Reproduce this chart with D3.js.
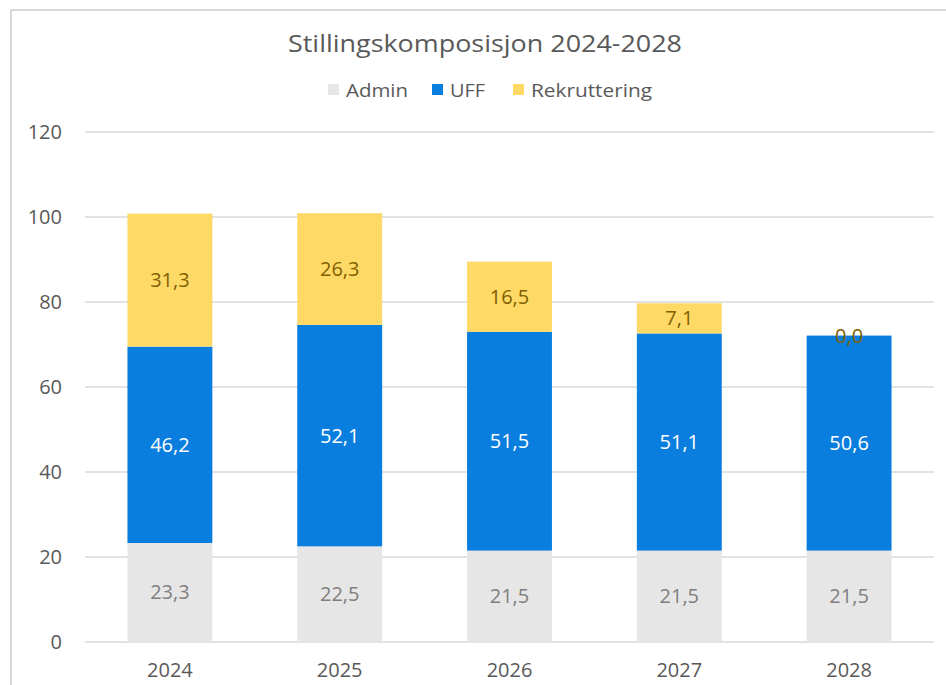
<!DOCTYPE html>
<html>
<head>
<meta charset="utf-8">
<script src="https://cdn.jsdelivr.net/npm/d3@7"></script>
<style>
  body { margin: 0; background: #fff; }
  text { font-family: "Open Sans", sans-serif; }
</style>
</head>
<body>
<div id="chart"></div>
<script>
var years = ['2024', '2025', '2026', '2027', '2028'],
    series = ['Admin', 'UFF', 'Rekruttering'],
    admin = [23.3, 22.5, 21.5, 21.5, 21.5],
    uff = [46.2, 52.1, 51.5, 51.1, 50.6],
    rekruttering = [31.3, 26.3, 16.5, 7.1, 0.0],
    yTicks = [0, 20, 40, 60, 80, 100, 120];

var colorMap = ['#e7e6e6', '#0a7ede', '#ffd966'],
    labelColor = ['#7f7f7f', '#ffffff', '#7f6000'];

var svg_dx = 946, svg_dy = 685,
    margin = {top: 132, right: 12, bottom: 43, left: 85},
    width = 934 - margin.left,
    height = svg_dy - margin.top - margin.bottom;

var rows = years.map(function(y, i) {
  return {year: y, Admin: admin[i], UFF: uff[i], Rekruttering: rekruttering[i]};
});

var stacked = d3.stack().keys(series)(rows);

var x = d3.scaleBand().domain(years).range([0, width]).paddingInner(0.5).paddingOuter(0.25);
var y = d3.scaleLinear().domain([0, 120]).range([height, 0]);

var svg = d3.select('#chart').append('svg')
    .attr('width', svg_dx)
    .attr('height', svg_dy);

// outer chart border (cropped at right/bottom)
svg.append('path')
   .attr('d', 'M11,' + svg_dy + ' V10 H' + svg_dx)
   .attr('fill', 'none')
   .attr('stroke', '#d9d9d9')
   .attr('stroke-width', 2);

var g = svg.append('g')
   .attr('transform', 'translate(' + margin.left + ',' + margin.top + ')');

// gridlines
g.selectAll('.grid')
  .data(yTicks)
  .enter()
  .append('line')
  .attr('x1', 0)
  .attr('x2', width)
  .attr('y1', function(d) { return y(d); })
  .attr('y2', function(d) { return y(d); })
  .attr('stroke', '#d9d9d9')
  .attr('stroke-width', 1.5);

// y tick labels
g.selectAll('.ylab')
  .data(yTicks)
  .enter()
  .append('text')
  .attr('x', -23)
  .attr('y', function(d) { return y(d) + 7; })
  .attr('text-anchor', 'end')
  .style('font-size', '20px')
  .style('fill', '#595959')
  .text(function(d) { return d; });

// x labels
g.selectAll('.xlab')
  .data(years)
  .enter()
  .append('text')
  .attr('x', function(d) { return x(d) + x.bandwidth() / 2; })
  .attr('y', height + 35)
  .attr('text-anchor', 'middle')
  .style('font-size', '20px')
  .style('fill', '#595959')
  .text(function(d) { return d; });

// bars
var layers = g.selectAll('.layer')
  .data(stacked)
  .enter()
  .append('g')
  .attr('fill', function(d, i) { return colorMap[i]; });

layers.selectAll('rect')
  .data(function(d) { return d; })
  .enter()
  .append('rect')
  .attr('x', function(d) { return x(d.data.year); })
  .attr('width', x.bandwidth())
  .attr('y', function(d) { return y(d[1]); })
  .attr('height', function(d) { return y(d[0]) - y(d[1]); });

// data labels
stacked.forEach(function(layer, i) {
  g.selectAll('.lab' + i)
    .data(layer)
    .enter()
    .append('text')
    .attr('x', function(d) { return x(d.data.year) + x.bandwidth() / 2; })
    .attr('y', function(d) { return (y(d[0]) + y(d[1])) / 2 + 7; })
    .attr('text-anchor', 'middle')
    .style('font-size', '20px')
    .style('fill', labelColor[i])
    .text(function(d) { return (d[1] - d[0]).toFixed(1).replace('.', ','); });
});

// title
svg.append('text')
   .attr('x', 485)
   .attr('y', 52)
   .attr('text-anchor', 'middle')
   .style('font-size', '23px')
   .style('fill', '#595959')
   .attr('textLength', 394)
   .attr('lengthAdjust', 'spacingAndGlyphs')
   .text('Stillingskomposisjon 2024-2028');

// legend
var legendX = [328, 432, 513],
    legendW = [62, 35, 121];
var legend = svg.selectAll('.legend')
  .data(series)
  .enter()
  .append('g')
  .attr('transform', function(d, i) { return 'translate(' + legendX[i] + ',84)'; });

legend.append('rect')
  .attr('width', 11)
  .attr('height', 11)
  .attr('fill', function(d, i) { return colorMap[i]; });

legend.append('text')
  .attr('x', 18)
  .attr('y', 13)
  .style('font-size', '19px')
  .style('fill', '#595959')
  .attr('textLength', function(d, i) { return legendW[i]; })
  .attr('lengthAdjust', 'spacingAndGlyphs')
  .text(function(d) { return d; });
</script>
</body>
</html>
